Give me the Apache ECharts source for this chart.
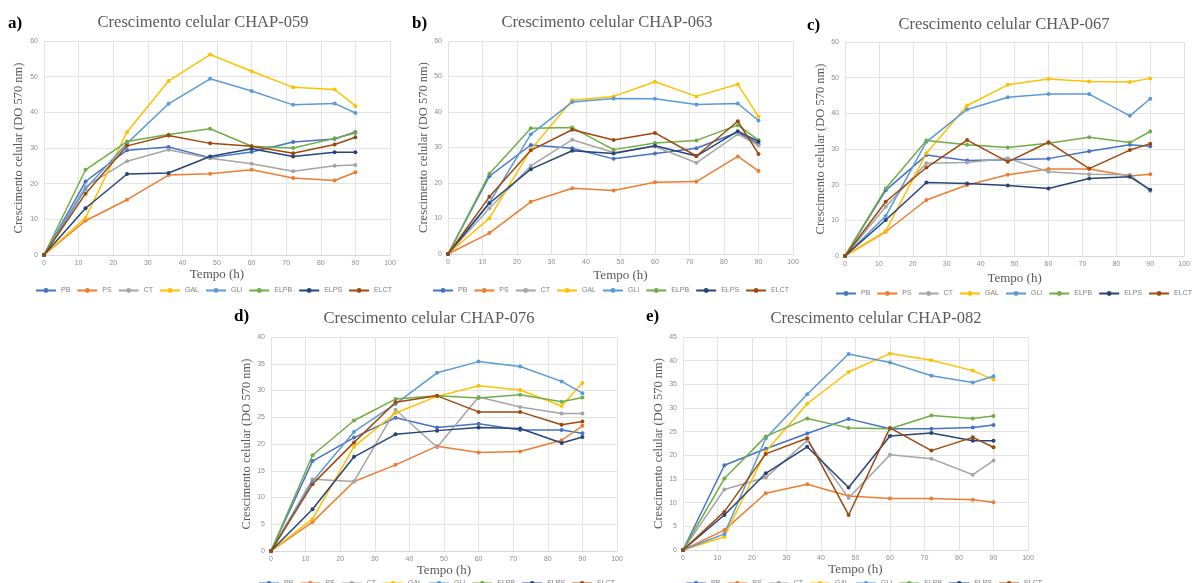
<!DOCTYPE html>
<html><head><meta charset="utf-8">
<script src="https://cdn.jsdelivr.net/npm/echarts@6/dist/echarts.min.js"></script>
<style>html,body{margin:0;padding:0;background:#fff;}#c{width:1193px;height:583px;}</style>
</head><body><div id="c"></div>
<script>
const times = [0, 12, 24, 36, 48, 60, 72, 84, 90];
const seriesNames = ['PB', 'PS', 'CT', 'GAL', 'GLI', 'ELPB', 'ELPS', 'ELCT'];
const colors = ['#4472C4', '#ED7D31', '#A5A5A5', '#FFC000', '#5B9BD5', '#70AD47', '#264478', '#9E480E'];
const xTicks = [0, 100, 10];

// a) CHAP-059
const A_PB   = [0, 20.6, 29.4, 30.3, 27.3, 28.9, 31.7, 32.5, 34.5];
const A_PS   = [0, 9.6, 15.5, 22.4, 22.8, 23.9, 21.6, 20.9, 23.2];
const A_CT   = [0, 19.2, 26.3, 29.5, 27.1, 25.6, 23.5, 25.0, 25.2];
const A_GAL  = [0, 10.4, 34.5, 48.8, 56.2, 51.5, 47.0, 46.4, 41.8];
const A_GLI  = [0, 18.5, 31.3, 42.4, 49.4, 46.0, 42.1, 42.5, 39.8];
const A_ELPB = [0, 23.9, 31.8, 33.8, 35.4, 30.5, 30.0, 32.7, 34.2];
const A_ELPS = [0, 13.1, 22.7, 23.0, 27.6, 29.8, 27.6, 28.8, 28.8];
const A_ELCT = [0, 17.2, 30.6, 33.5, 31.3, 30.5, 28.5, 31.0, 33.0];
// b) CHAP-063
const B_PB   = [0, 21.9, 30.7, 29.8, 26.8, 28.3, 29.8, 34.3, 31.0];
const B_PS   = [0, 5.9, 14.7, 18.5, 17.9, 20.2, 20.4, 27.5, 23.4];
const B_CT   = [0, 12.9, 24.8, 32.2, 28.6, 30.3, 25.7, 33.8, 30.6];
const B_GAL  = [0, 10.1, 29.4, 43.3, 44.4, 48.5, 44.4, 47.8, 38.7];
const B_GLI  = [0, 14.5, 33.7, 42.8, 43.8, 43.7, 42.1, 42.4, 37.6];
const B_ELPB = [0, 22.6, 35.4, 35.6, 29.4, 31.3, 32.0, 36.3, 32.1];
const B_ELPS = [0, 14.3, 23.9, 29.1, 28.3, 30.5, 27.6, 34.6, 31.7];
const B_ELCT = [0, 16.1, 29.2, 35.0, 32.1, 34.1, 27.6, 37.4, 28.2];
// c) CHAP-067
const C_PB   = [0, 18.4, 28.3, 26.8, 27.0, 27.3, 29.4, 31.2, 30.8];
const C_PS   = [0, 6.8, 15.7, 19.9, 22.8, 24.4, 24.4, 22.4, 22.9];
const C_CT   = [0, 13.8, 26.0, 26.2, 27.4, 23.6, 22.9, 22.8, 18.2];
const C_GAL  = [0, 7.0, 28.8, 42.2, 48.0, 49.6, 48.9, 48.8, 49.8];
const C_GLI  = [0, 11.2, 32.0, 41.1, 44.5, 45.4, 45.4, 39.3, 44.1];
const C_ELPB = [0, 18.9, 32.4, 31.2, 30.4, 31.6, 33.3, 31.8, 34.9];
const C_ELPS = [0, 10.1, 20.6, 20.3, 19.8, 18.9, 21.7, 22.2, 18.6];
const C_ELCT = [0, 15.2, 24.8, 32.5, 26.4, 31.9, 24.5, 29.7, 31.5];
// d) CHAP-076
const D_PB   = [0, 16.8, 21.2, 24.9, 23.1, 23.8, 22.6, 22.6, 22.0];
const D_PS   = [0, 5.4, 13.0, 16.1, 19.6, 18.4, 18.6, 20.7, 23.4];
const D_CT   = [0, 13.4, 13.0, 26.4, 19.4, 28.8, 26.9, 25.7, 25.7];
const D_GAL  = [0, 6.0, 19.5, 25.8, 28.9, 30.9, 30.1, 27.1, 31.4];
const D_GLI  = [0, 13.0, 22.3, 27.5, 33.3, 35.4, 34.5, 31.7, 29.5];
const D_ELPB = [0, 17.9, 24.4, 28.4, 29.0, 28.6, 29.2, 27.9, 28.7];
const D_ELPS = [0, 7.8, 17.6, 21.8, 22.5, 23.1, 22.9, 20.2, 21.3];
const D_ELCT = [0, 12.5, 20.3, 27.8, 29.0, 26.0, 26.0, 23.6, 24.2];
// e) CHAP-082
const E_PB   = [0, 17.9, 21.4, 24.6, 27.7, 25.6, 25.6, 25.9, 26.4];
const E_PS   = [0, 4.2, 12.0, 13.9, 11.4, 10.9, 10.9, 10.6, 10.1];
const E_CT   = [0, 12.8, 15.3, 23.1, 11.0, 20.1, 19.3, 15.9, 18.9];
const E_GAL  = [0, 2.8, 20.8, 30.9, 37.6, 41.5, 40.1, 37.9, 36.0];
const E_GLI  = [0, 3.4, 23.6, 32.9, 41.4, 39.6, 36.8, 35.4, 36.7];
const E_ELPB = [0, 15.1, 24.0, 27.8, 25.8, 25.6, 28.4, 27.8, 28.3];
const E_ELPS = [0, 7.4, 16.2, 21.8, 13.2, 24.1, 24.7, 23.1, 23.1];
const E_ELCT = [0, 8.1, 20.3, 23.6, 7.4, 25.8, 21.0, 23.8, 21.7];

const panels = [
  {label: 'a)', title: 'Crescimento celular CHAP-059', yMax: 60, yInt: 10,
   data: [A_PB, A_PS, A_CT, A_GAL, A_GLI, A_ELPB, A_ELPS, A_ELCT],
   grid: {left: 44, top: 41, width: 346, height: 214}, titleX: 203, titleY: 14, labX: 8, labY: 15,
   yGap: 19, xGap: 3, legX: 35, legY: 287},
  {label: 'b)', title: 'Crescimento celular CHAP-063', yMax: 60, yInt: 10,
   data: [B_PB, B_PS, B_CT, B_GAL, B_GLI, B_ELPB, B_ELPS, B_ELCT],
   grid: {left: 448, top: 41, width: 345, height: 213}, titleX: 607, titleY: 14, labX: 412, labY: 15,
   yGap: 16, xGap: 15, legX: 432, legY: 287},
  {label: 'c)', title: 'Crescimento celular CHAP-067', yMax: 60, yInt: 10,
   data: [C_PB, C_PS, C_CT, C_GAL, C_GLI, C_ELPB, C_ELPS, C_ELCT],
   grid: {left: 845, top: 42, width: 343, height: 214}, titleX: 1004, titleY: 16, labX: 807, labY: 17,
   yGap: 13, xGap: 16, legX: 835, legY: 290},
  {label: 'd)', title: 'Crescimento celular CHAP-076', yMax: 40, yInt: 5,
   data: [D_PB, D_PS, D_CT, D_GAL, D_GLI, D_ELPB, D_ELPS, D_ELCT],
   grid: {left: 271, top: 337, width: 346, height: 214}, titleX: 429, titleY: 310, labX: 234, labY: 308,
   yGap: 14, xGap: 10, legX: 258, legY: 580},
  {label: 'e)', title: 'Crescimento celular CHAP-082', yMax: 45, yInt: 5,
   data: [E_PB, E_PS, E_CT, E_GAL, E_GLI, E_ELPB, E_ELPS, E_ELCT],
   grid: {left: 683, top: 337, width: 345, height: 213}, titleX: 876, titleY: 310, labX: 646, labY: 308,
   yGap: 14, xGap: 11, legX: 685, legY: 580}
];

const tickFont = {fontSize: 7, color: '#8c8c8c', fontFamily: 'Liberation Sans'};
const serif = 'Liberation Serif';
const option = {animation: false, backgroundColor: '#fff', color: colors,
  grid: [], xAxis: [], yAxis: [], series: [], title: [], legend: []};

panels.forEach((p, i) => {
  option.grid.push(Object.assign({containLabel: false}, p.grid));
  option.xAxis.push({type: 'value', gridIndex: i, min: xTicks[0], max: xTicks[1], interval: xTicks[2],
    name: 'Tempo (h)', nameLocation: 'middle', nameGap: p.xGap,
    nameTextStyle: {fontFamily: serif, fontSize: 13, color: '#595959'},
    axisLine: {show: true, lineStyle: {color: '#d9d9d9'}}, axisTick: {show: false},
    axisLabel: Object.assign({margin: 5}, tickFont),
    splitLine: {show: true, lineStyle: {color: '#e3e3e3', width: 1}}});
  option.yAxis.push({type: 'value', gridIndex: i, min: 0, max: p.yMax, interval: p.yInt,
    name: 'Crescimento celular (DO 570 nm)', nameLocation: 'middle', nameGap: p.yGap,
    nameTextStyle: {fontFamily: serif, fontSize: 12.5, color: '#595959'},
    axisLine: {show: false}, axisTick: {show: false},
    axisLabel: Object.assign({margin: 6}, tickFont),
    splitLine: {show: true, lineStyle: {color: '#e3e3e3', width: 1}}});
  p.data.forEach((vals, k) => {
    option.series.push({type: 'line', name: seriesNames[k], xAxisIndex: i, yAxisIndex: i,
      data: times.map((t, j) => [t, vals[j]]),
      symbol: 'circle', symbolSize: 4, showSymbol: true,
      lineStyle: {width: 1.5, color: colors[k]}, itemStyle: {color: colors[k]}});
  });
  option.title.push({text: p.title, left: p.titleX, top: p.titleY, textAlign: 'center', padding: 0,
    textStyle: {fontFamily: serif, fontSize: 16.5, fontWeight: 'normal', color: '#595959'}});
  option.title.push({text: p.label, left: p.labX, top: p.labY, padding: 0,
    textStyle: {fontFamily: serif, fontSize: 17, fontWeight: 'bold', color: '#000'}});
  option.legend.push({data: seriesNames, left: p.legX, top: p.legY, width: 420, itemWidth: 20, itemHeight: 6,
    itemGap: 6, padding: 0, textStyle: {fontSize: 7, color: '#7f7f7f', fontFamily: 'Liberation Sans'}});
});

const chart = echarts.init(document.getElementById('c'), null, {renderer: 'canvas'});
chart.setOption(option);
</script></body></html>
